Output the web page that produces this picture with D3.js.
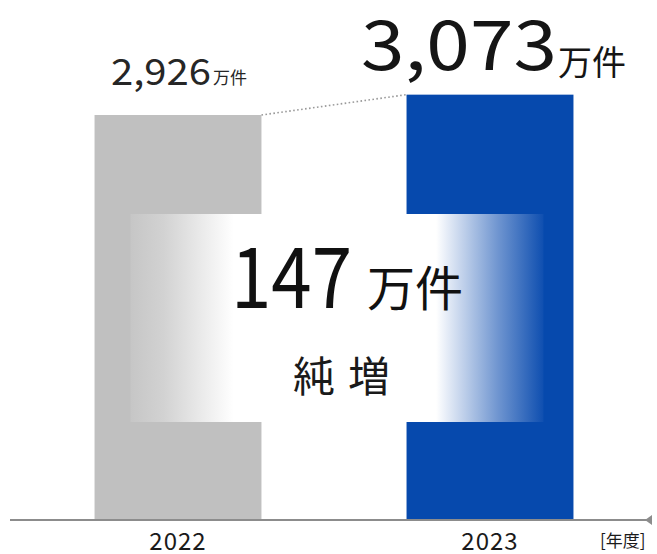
<!DOCTYPE html>
<html>
<head>
<meta charset="utf-8">
<script src="https://cdn.jsdelivr.net/npm/d3@7"></script>
<style>
  html, body { margin: 0; padding: 0; background: #fff; }
  svg { display: block; }
  text { font-family: "Noto Sans CJK JP", "Noto Sans", sans-serif; fill: #1a1a1a; }
</style>
</head>
<body>
<svg id="chart" width="657" height="554"></svg>
<script>
// Contract counts by fiscal year (unit: 万件)
const years = ["2022", "2023"];
const values = [2926, 3073];
const barColors = ["#c0c0c0", "#0649ad"];
const unitLabel = "万件";
const netLabel = "純増";
const axisUnit = "[年度]";

const svg = d3.select("#chart");
const baseY = 520;

const x = d3.scaleBand()
  .domain(years)
  .range([22, 646])
  .paddingInner(0.465)
  .paddingOuter(0.2325);

const y = d3.scaleLinear()
  .domain([0, 2926])
  .range([baseY, 115]);

const fmt = d3.format(",");

// Bars
svg.selectAll("rect.bar")
  .data(years)
  .join("rect")
  .attr("class", "bar")
  .attr("x", d => x(d))
  .attr("width", x.bandwidth())
  .attr("y", (d, i) => y(values[i]))
  .attr("height", (d, i) => baseY - y(values[i]))
  .attr("fill", (d, i) => barColors[i]);

// Dotted connector between bar tops
svg.append("line")
  .attr("x1", x(years[0]) + x.bandwidth())
  .attr("y1", y(values[0]))
  .attr("x2", x(years[1]))
  .attr("y2", y(values[1]))
  .attr("stroke", "#9a9a9a")
  .attr("stroke-width", 1.6)
  .attr("stroke-dasharray", "1.6,2.4");

// Net-increase panel fading from one bar colour to the other
const defs = svg.append("defs");
const grad = defs.append("linearGradient").attr("id", "netGrad")
  .attr("x1", "0%").attr("x2", "100%").attr("y1", "0%").attr("y2", "0%");
grad.append("stop").attr("offset", "0%").attr("stop-color", "#c6c6c6");
grad.append("stop").attr("offset", "8%").attr("stop-color", "#d2d2d2");
grad.append("stop").attr("offset", "25%").attr("stop-color", "#ffffff");
grad.append("stop").attr("offset", "74%").attr("stop-color", "#ffffff");
grad.append("stop").attr("offset", "89%").attr("stop-color", "#6f95d0");
grad.append("stop").attr("offset", "100%").attr("stop-color", "#0f4fb0");

const boxX0 = x(years[0]) + 36;
const boxX1 = x(years[1]) + x.bandwidth() - 30;
svg.append("rect")
  .attr("x", boxX0)
  .attr("y", 214)
  .attr("width", boxX1 - boxX0)
  .attr("height", 208)
  .attr("fill", "url(#netGrad)");

// Number + unit label helper
function valueLabel(num, opts) {
  svg.append("text")
    .attr("x", opts.x)
    .attr("y", opts.y)
    .attr("font-size", opts.size)
    .attr("font-weight", opts.weight || 400)
    .attr("textLength", opts.len)
    .attr("lengthAdjust", "spacingAndGlyphs")
    .style("fill", opts.color)
    .text(num);
  svg.append("text")
    .attr("x", opts.ux)
    .attr("y", opts.uy)
    .attr("font-size", opts.usize)
    .style("fill", opts.color)
    .text(unitLabel);
}

// Value labels above bars
valueLabel(fmt(values[0]), {
  x: 111, y: 85, size: 37, len: 100, color: "#262626",
  ux: 213, uy: 84, usize: 17
});
valueLabel(fmt(values[1]), {
  x: 361, y: 70, size: 69, len: 196, color: "#151515",
  ux: 558, uy: 75, usize: 34
});

// Net increase
const diff = values[1] - values[0];
valueLabel(diff, {
  x: 231, y: 308, size: 84, len: 121, color: "#111",
  ux: 367, uy: 306, usize: 48
});

svg.append("text")
  .attr("x", 293)
  .attr("y", 392)
  .attr("font-size", 42)
  .attr("letter-spacing", 13)
  .style("fill", "#1a1a1a")
  .text(netLabel);

// Category axis
const axis = d3.axisBottom(x).tickSize(0).tickPadding(13);
const gx = svg.append("g")
  .attr("transform", `translate(0,${baseY})`)
  .call(axis);
gx.select(".domain").remove();
gx.selectAll("text")
  .attr("font-size", 24)
  .attr("letter-spacing", 1)
  .attr("fill", "#333")
  .style("font-family", "'Noto Sans CJK JP', 'Noto Sans', sans-serif");

svg.append("line")
  .attr("x1", 10).attr("x2", 652)
  .attr("y1", baseY).attr("y2", baseY)
  .attr("stroke", "#8c8c8c")
  .attr("stroke-width", 2);
svg.append("path")
  .attr("d", `M${652},${baseY - 5} L${645},${baseY} L${652},${baseY + 5} Z`)
  .attr("fill", "#8c8c8c");

svg.append("text")
  .attr("x", 600)
  .attr("y", 547)
  .attr("font-size", 17)
  .attr("fill", "#333")
  .text(axisUnit);
</script>
</body>
</html>
